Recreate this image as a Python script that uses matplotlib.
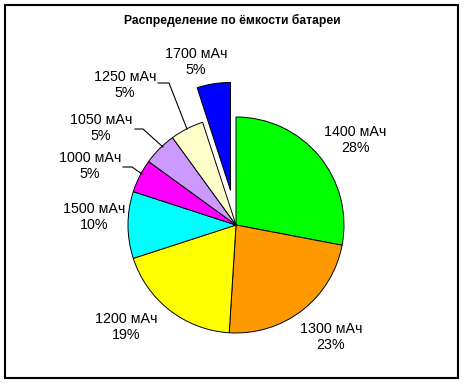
import matplotlib.pyplot as plt
from matplotlib.patches import Rectangle

plt.rcParams['font.family'] = ['Liberation Sans', 'DejaVu Sans']

# data (clockwise from 12 o'clock)
capacities = ['1400 мАч', '1300 мАч', '1200 мАч', '1500 мАч',
              '1000 мАч', '1050 мАч', '1250 мАч', '1700 мАч']
shares = [28, 23, 19, 10, 5, 5, 5, 5]
colors = ['#00FF00', '#FF9900', '#FFFF00', '#00FFFF',
          '#FF00FF', '#CC99FF', '#FFFFCC', '#0000FF']
title = 'Распределение по ёмкости батареи'

W, H = 463, 383
fig = plt.figure(figsize=(W / 100, H / 100), dpi=100)
ax = fig.add_axes([0, 0, 1, 1])

# pixel coords -> data coords (y up)
def py(y):
    return H - y

R = 108
explode = [0, 0, 0, 0, 0, 0, 0, 35]
ax.pie(shares, colors=colors, startangle=90, counterclock=False,
       radius=R, center=(236, py(225)), explode=explode, frame=True,
       wedgeprops=dict(edgecolor='black', linewidth=0.7))
ax.set_xlim(0, W)
ax.set_ylim(0, H)
ax.set_aspect('auto')
ax.axis('off')

# label centres (pixels)
label_pos = [(355, 140), (331, 337), (126, 327), (94, 217),
             (90, 166), (101, 128), (125, 85), (196, 62)]
for cap, s, (x, y) in zip(capacities, shares, label_pos):
    ax.text(x, py(y), f'{cap}\n{s}%', ha='center', va='center',
            fontsize=10.3, linespacing=1.2)

# leader lines
leaders = [
    [(123, 167), (132, 167), (142, 174)],
    [(135, 129), (143, 129), (163, 147)],
    [(158, 83), (169, 83), (187, 129)],
]
for pts in leaders:
    ax.plot([p[0] for p in pts], [py(p[1]) for p in pts], color='black', lw=0.8)

ax.text(232, py(20), title, ha='center', va='center', fontsize=8.7,
        fontweight='bold')

# chart border
ax.add_patch(Rectangle((4.5, py(377.5)), 453, 373, fill=False,
                       edgecolor='black', lw=1.5))

plt.savefig('out.png', dpi=100)
